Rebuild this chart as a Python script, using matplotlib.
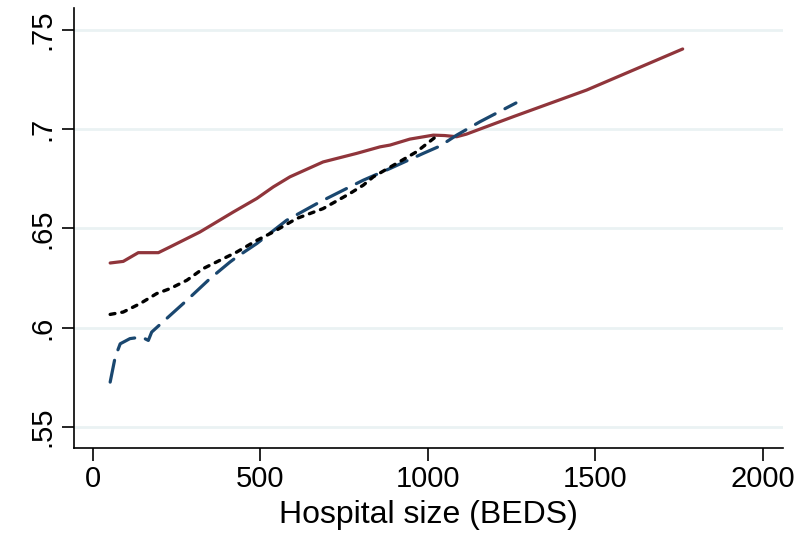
import matplotlib
matplotlib.use("Agg")
import matplotlib.pyplot as plt

# Values
red_x = [51, 90, 135, 195, 230, 319, 419, 489, 538, 588, 687, 787, 857, 887, 946, 1016, 1050, 1086, 1115, 1255, 1474, 1761]
red_y = [0.6326, 0.6334, 0.6378, 0.6378, 0.6407, 0.6482, 0.6583, 0.6651, 0.6709, 0.6760, 0.6835, 0.6878, 0.6911, 0.6920, 0.6950, 0.6970, 0.6968, 0.6962, 0.6975, 0.7063, 0.7197, 0.7404]

blue_x = [51, 66, 81, 110, 145, 165, 175, 230, 280, 349, 409, 429, 489, 578, 678, 777, 807, 887, 986, 1036, 1086, 1155, 1263]
blue_y = [0.5726, 0.5852, 0.5919, 0.5945, 0.5953, 0.5936, 0.5978, 0.6062, 0.6138, 0.6247, 0.6331, 0.6356, 0.6424, 0.6541, 0.6634, 0.6718, 0.6743, 0.6802, 0.6878, 0.6915, 0.6970, 0.7037, 0.7132]

black_x = [51, 90, 140, 190, 230, 280, 329, 389, 429, 489, 538, 608, 687, 767, 807, 837, 906, 966, 1026]
black_y = [0.6067, 0.6079, 0.6121, 0.6172, 0.6197, 0.6239, 0.6298, 0.6348, 0.6381, 0.6440, 0.6482, 0.6550, 0.6600, 0.6676, 0.6718, 0.6760, 0.6827, 0.6886, 0.6965]

x_ticks = [0, 500, 1000, 1500, 2000]
y_ticks = [0.55, 0.6, 0.65, 0.7, 0.75]
y_tick_labels = [".55", ".6", ".65", ".7", ".75"]
x_label = "Hospital size (BEDS)"

plt.rcParams["font.family"] = ["Liberation Sans", "DejaVu Sans"]
plt.rcParams["lines.scale_dashes"] = False

fig = plt.figure(figsize=(8.07, 5.39), dpi=100)
ax = fig.add_axes([0.0917, 0.1688, 0.8783, 0.8162])

for y in y_ticks:
    ax.axhline(y, color="#EAF2F3", lw=2.0, zorder=0)

ax.plot(red_x, red_y, color="#90353B", lw=2.3, solid_capstyle="round")
ax.plot(blue_x, blue_y, color="#1A476F", lw=2.3, dashes=(16, 8), dash_capstyle="round")
ax.plot(black_x, black_y, color="black", lw=2.4, dashes=(3.5, 5), dash_capstyle="round")

ax.set_xlim(-57, 2060)
ax.set_ylim(0.5394, 0.761)
ax.set_xticks(x_ticks)
ax.set_yticks(y_ticks)
ax.set_yticklabels(y_tick_labels, rotation=90, va="center")
ax.tick_params(axis="both", labelsize=21, length=9, width=1.2, direction="out")
ax.tick_params(axis="y", pad=4)
ax.set_xlabel(x_label, fontsize=23, labelpad=5)

for side in ["top", "right"]:
    ax.spines[side].set_visible(False)
for side in ["left", "bottom"]:
    ax.spines[side].set_linewidth(1.2)

fig.savefig("out.png", dpi=100)
